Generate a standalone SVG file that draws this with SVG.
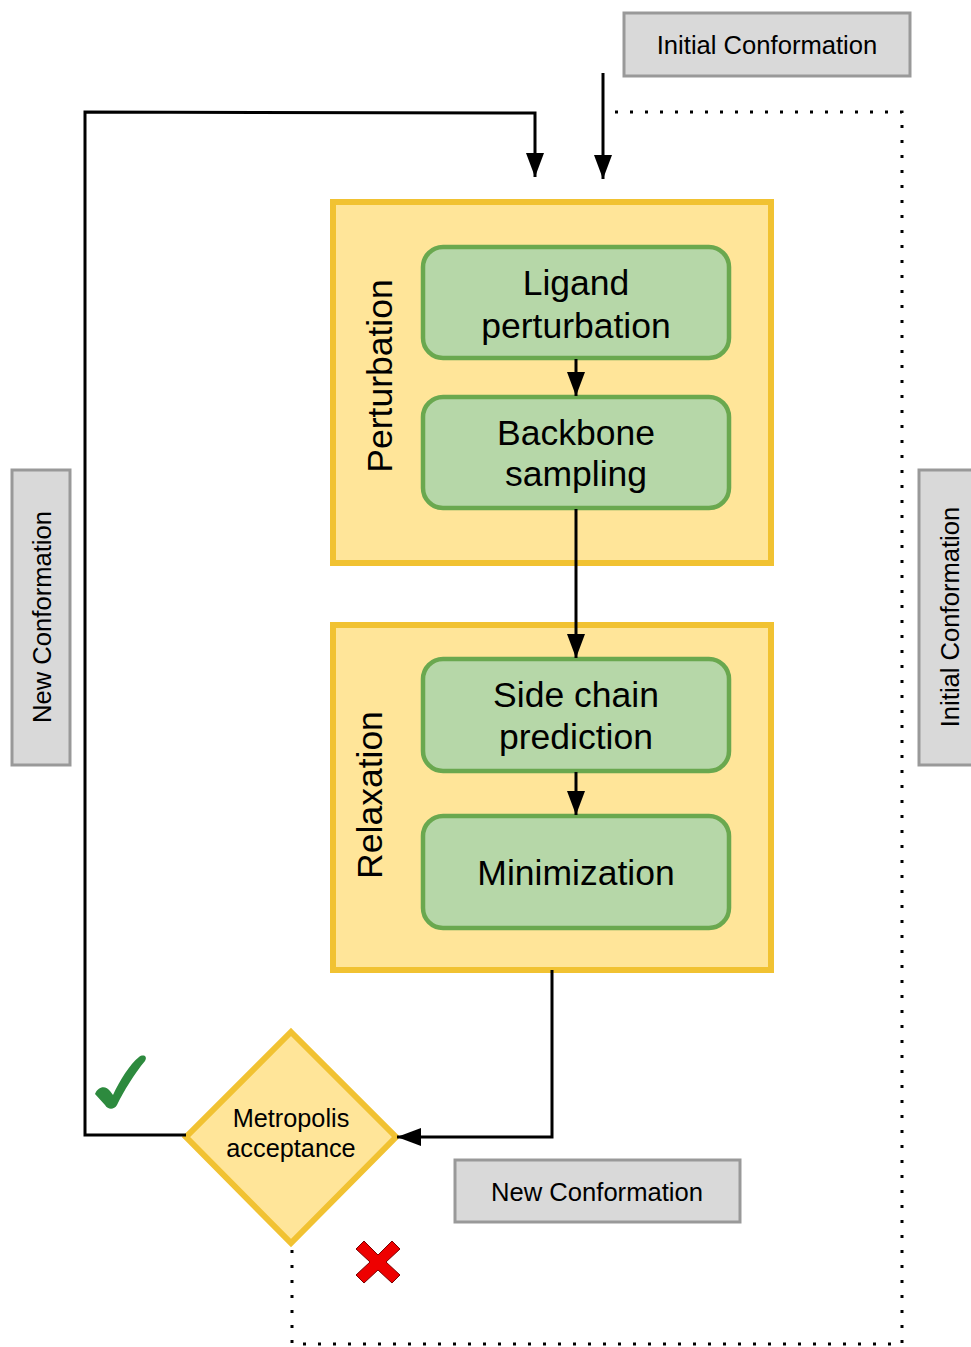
<svg xmlns="http://www.w3.org/2000/svg" width="971" height="1347" viewBox="0 0 971 1347">
  <style>
    .label { font-family: "Liberation Sans", Arial, sans-serif; fill: #000; text-anchor: middle; }
    .group-box { fill: #ffe599; stroke: #f1c232; stroke-width: 6; }
    .step { fill: #b6d7a8; stroke: #6aa84f; stroke-width: 4.5; }
    .note { fill: #d9d9d9; stroke: #999999; stroke-width: 3; }
    .flow { fill: none; stroke: #000; stroke-width: 3; }
    .dotted { fill: none; stroke: #000; stroke-width: 3; stroke-dasharray: 3 12; }
    .step-text { font-size: 35.5px; }
    .group-text { font-size: 35.5px; }
    .note-text { font-size: 25.6px; }
  </style>
  <defs>
    <marker id="arrow" markerWidth="8" markerHeight="6" refX="8" refY="3" orient="auto" markerUnits="strokeWidth">
      <path d="M0,0 L8,3 L0,6 Z" fill="#000"/>
    </marker>
  </defs>

  <rect width="971" height="1347" fill="#fff"/>

  <!-- perturbation stage -->
  <g id="perturbation">
    <rect class="group-box" x="333" y="202" width="438" height="361"/>
    <text class="label group-text" transform="translate(392,376) rotate(-90)">Perturbation</text>
  </g>
  <g id="ligand-perturbation">
    <rect class="step" x="423" y="247" width="306" height="111" rx="20"/>
    <text class="label step-text" x="576" y="295">Ligand</text>
    <text class="label step-text" x="576" y="338">perturbation</text>
  </g>
  <g id="backbone-sampling">
    <rect class="step" x="423" y="397" width="306" height="111" rx="20"/>
    <text class="label step-text" x="576" y="445">Backbone</text>
    <text class="label step-text" x="576" y="486">sampling</text>
  </g>

  <!-- relaxation stage -->
  <g id="relaxation">
    <rect class="group-box" x="333" y="625" width="438" height="345"/>
    <text class="label group-text" transform="translate(382,795) rotate(-90)">Relaxation</text>
  </g>
  <g id="side-chain-prediction">
    <rect class="step" x="423" y="659" width="306" height="112" rx="20"/>
    <text class="label step-text" x="576" y="707">Side chain</text>
    <text class="label step-text" x="576" y="749">prediction</text>
  </g>
  <g id="minimization">
    <rect class="step" x="423" y="816" width="306" height="112" rx="20"/>
    <text class="label step-text" x="576" y="885">Minimization</text>
  </g>

  <!-- decision -->
  <g id="metropolis">
    <polygon points="291,1032 396,1137 291,1243 186,1137" fill="#ffe599" stroke="#f1c232" stroke-width="6" stroke-linejoin="miter"/>
    <text class="label" font-size="25.3" x="291" y="1127">Metropolis</text>
    <text class="label" font-size="25.3" x="291" y="1157">acceptance</text>
  </g>

  <!-- accept / reject marks -->
  <g id="accept-mark">
    <path d="M95,1094 C98,1086 106,1085 110,1091 L113,1095 C120,1080 130,1064 139,1057 C143,1054 148,1056 145,1061 C134,1074 124,1091 117,1105 C114,1110 108,1110 105,1105 Z" fill="#2d8a3e"/>
  </g>
  <g id="reject-mark">
    <polygon points="364,1241 378,1255 392,1241 400,1249 386,1262 400,1275 392,1283 378,1270 364,1283 356,1275 370,1262 356,1249" fill="#ee0000" stroke="#7a0000" stroke-width="1"/>
  </g>

  <!-- conformation labels -->
  <g id="initial-conformation-top">
    <rect class="note" x="624" y="13" width="286" height="63"/>
    <text class="label note-text" x="767" y="54">Initial Conformation</text>
  </g>
  <g id="new-conformation-left">
    <rect class="note" x="12" y="470" width="58" height="295"/>
    <text class="label note-text" transform="translate(51,617) rotate(-90)">New Conformation</text>
  </g>
  <g id="initial-conformation-right">
    <rect class="note" x="919" y="470" width="60" height="295"/>
    <text class="label note-text" transform="translate(959,617) rotate(-90)">Initial Conformation</text>
  </g>
  <g id="new-conformation-bottom">
    <rect class="note" x="455" y="1160" width="285" height="62"/>
    <text class="label note-text" x="597" y="1201">New Conformation</text>
  </g>

  <!-- connectors -->
  <g id="connectors">
    <!-- rejection path back to the initial conformation -->
    <path class="dotted" d="M292,1250 L292,1344 L902,1344 L902,112 L606,112"/>
    <!-- acceptance loop -->
    <path class="flow" d="M186,1135 L85,1135 L85,112 L535,113 L535,177" marker-end="url(#arrow)"/>
    <!-- initial conformation entry -->
    <path class="flow" d="M603,73 L603,179" marker-end="url(#arrow)"/>
    <!-- step links -->
    <path class="flow" d="M576,359 L576,396" marker-end="url(#arrow)"/>
    <path class="flow" d="M576,509 L576,658" marker-end="url(#arrow)"/>
    <path class="flow" d="M576,772 L576,815" marker-end="url(#arrow)"/>
    <path class="flow" d="M552,970 L552,1137 L397,1137" marker-end="url(#arrow)"/>
  </g>
</svg>
